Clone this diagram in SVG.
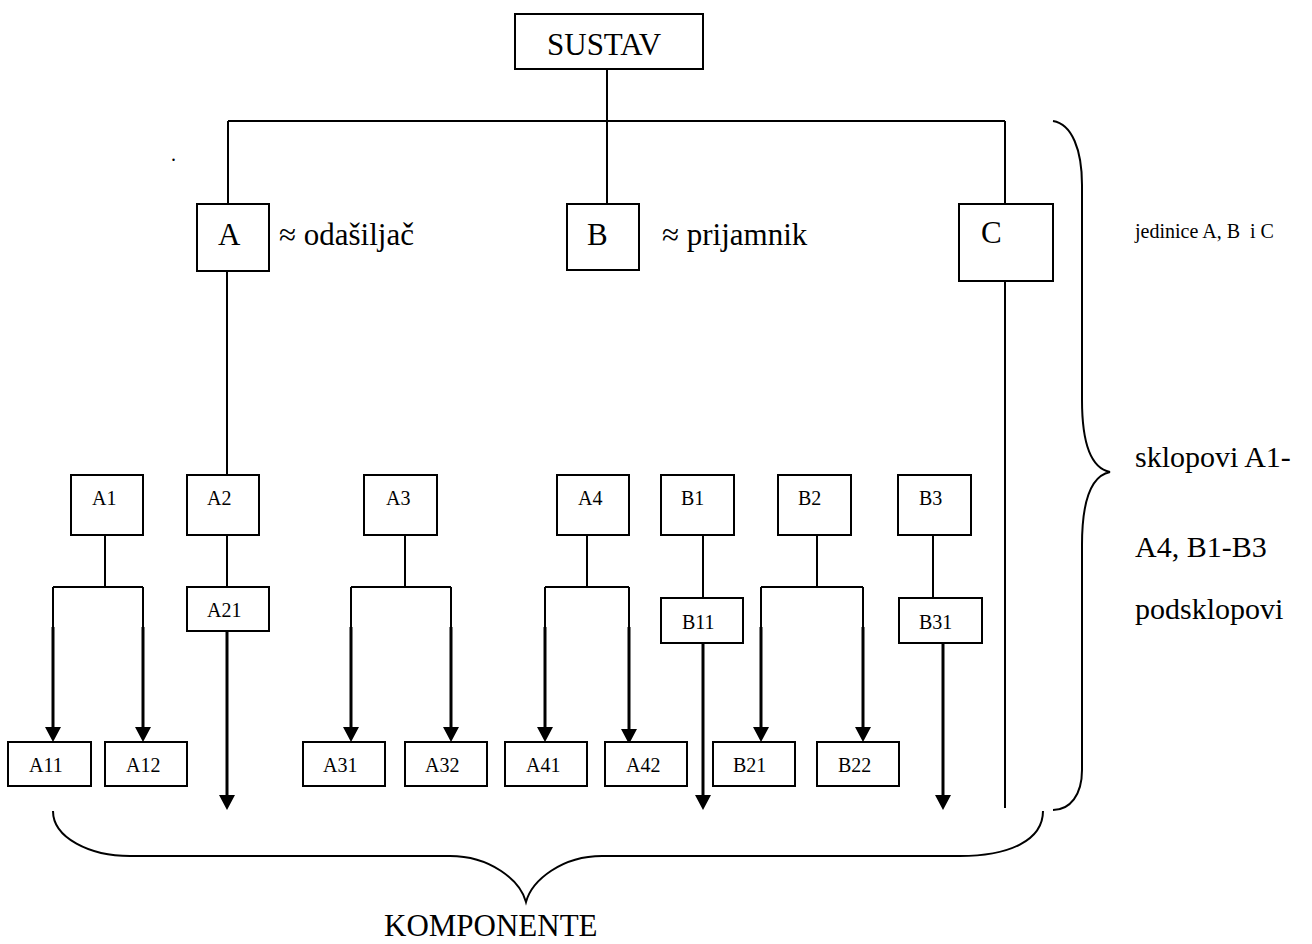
<svg xmlns="http://www.w3.org/2000/svg" width="1312" height="944" viewBox="0 0 1312 944">
<style>
text{font-family:"Liberation Serif","Times New Roman",serif;fill:#000}
.big{font-size:31px}
.sm{font-size:20px}
.side{font-size:30px}
rect{fill:#fff;stroke:#000;stroke-width:2}
.ln{stroke:#000;stroke-width:2;fill:none}
.ar{stroke:#000;stroke-width:3;fill:none;marker-end:url(#ah)}
.br{stroke:#000;stroke-width:2;fill:none}
</style>
<defs>
<marker id="ah" markerUnits="userSpaceOnUse" viewBox="0 0 15 16" refX="2" refY="8" markerWidth="15" markerHeight="16" orient="auto">
<path d="M0,0 L15,8 L0,16 Z" fill="#000"/>
</marker>
</defs>
<rect width="1312" height="944" style="fill:#fff;stroke:none"/>
<g id="connectors">
<path class="ln" d="M607,69 V204 M228,121 H1005 M228,121 V204 M1005,121 V204"/>
<path class="ln" d="M227,271 V475 M1005,281 V808"/>
<path class="ln" d="M105,535 V587 M53,587 H143 M53,587 V628 M143,587 V628"/>
<path class="ln" d="M227,535 V587"/>
<path class="ln" d="M405,535 V587 M351,587 H451 M351,587 V628 M451,587 V628"/>
<path class="ln" d="M587,535 V587 M545,587 H629 M545,587 V628 M629,587 V628"/>
<path class="ln" d="M703,535 V598"/>
<path class="ln" d="M817,535 V587 M761,587 H863 M761,587 V628 M863,587 V628"/>
<path class="ln" d="M933,535 V598"/>
<line class="ar" x1="53" y1="627" x2="53" y2="729"/>
<line class="ar" x1="143" y1="627" x2="143" y2="729"/>
<line class="ar" x1="227" y1="631" x2="227" y2="797"/>
<line class="ar" x1="351" y1="627" x2="351" y2="729"/>
<line class="ar" x1="451" y1="627" x2="451" y2="729"/>
<line class="ar" x1="545" y1="627" x2="545" y2="729"/>
<line class="ar" x1="629" y1="627" x2="629" y2="731"/>
<line class="ar" x1="703" y1="643" x2="703" y2="797"/>
<line class="ar" x1="761" y1="627" x2="761" y2="729"/>
<line class="ar" x1="863" y1="627" x2="863" y2="729"/>
<line class="ar" x1="943" y1="643" x2="943" y2="797"/>
</g>
<g id="brace-right">
<path class="br" d="M1053,121 C1072,124 1082,150 1082,185 V400 C1082,440 1090,468 1110,472 C1090,476 1082,505 1082,545 V770 C1082,795 1070,810 1053,810"/>
</g>
<g id="brace-bottom">
<path class="br" d="M53,811 C53,838 90,856 130,856 H450 C490,856 520,880 526,902 C532,880 562,856 602,856 H960 C1010,856 1043,840 1043,811"/>
</g>
<g id="sustav"><rect x="515" y="14" width="188" height="55"/><text class="big" x="547" y="55">SUSTAV</text></g>
<g id="A"><rect x="197" y="204" width="72" height="67"/><text class="big" x="218" y="245">A</text></g>
<g id="B"><rect x="567" y="204" width="72" height="66"/><text class="big" x="587" y="245">B</text></g>
<g id="C"><rect x="959" y="204" width="94" height="77"/><text class="big" x="981" y="243">C</text></g>
<g id="A1"><rect x="71" y="475" width="72" height="60"/><text class="sm" x="92" y="505">A1</text></g>
<g id="A2"><rect x="187" y="475" width="72" height="60"/><text class="sm" x="207" y="505">A2</text></g>
<g id="A3"><rect x="364" y="475" width="73" height="60"/><text class="sm" x="386" y="505">A3</text></g>
<g id="A4"><rect x="557" y="475" width="72" height="60"/><text class="sm" x="578" y="505">A4</text></g>
<g id="B1"><rect x="661" y="475" width="73" height="60"/><text class="sm" x="681" y="505">B1</text></g>
<g id="B2"><rect x="778" y="475" width="73" height="60"/><text class="sm" x="798" y="505">B2</text></g>
<g id="B3"><rect x="898" y="475" width="73" height="60"/><text class="sm" x="919" y="505">B3</text></g>
<g id="A21"><rect x="187" y="587" width="82" height="44"/><text class="sm" x="207" y="617">A21</text></g>
<g id="B11"><rect x="661" y="598" width="82" height="45"/><text class="sm" x="682" y="629">B11</text></g>
<g id="B31"><rect x="899" y="598" width="83" height="45"/><text class="sm" x="919" y="629">B31</text></g>
<g id="A11"><rect x="8" y="742" width="83" height="44"/><text class="sm" x="29" y="772">A11</text></g>
<g id="A12"><rect x="105" y="742" width="82" height="44"/><text class="sm" x="126" y="772">A12</text></g>
<g id="A31"><rect x="303" y="742" width="82" height="44"/><text class="sm" x="323" y="772">A31</text></g>
<g id="A32"><rect x="405" y="742" width="82" height="44"/><text class="sm" x="425" y="772">A32</text></g>
<g id="A41"><rect x="505" y="742" width="82" height="44"/><text class="sm" x="526" y="772">A41</text></g>
<g id="A42"><rect x="605" y="742" width="82" height="44"/><text class="sm" x="626" y="772">A42</text></g>
<g id="B21"><rect x="713" y="742" width="82" height="44"/><text class="sm" x="733" y="772">B21</text></g>
<g id="B22"><rect x="817" y="742" width="82" height="44"/><text class="sm" x="838" y="772">B22</text></g>
<g id="labels">
<text class="sm" x="171" y="161">.</text>
<text class="big" x="279" y="245">≈ odašiljač</text>
<text class="big" x="662" y="245">≈ prijamnik</text>
<text class="sm" x="1135" y="238" xml:space="preserve">jedinice A, B  i C</text>
<text class="side" x="1135" y="467">sklopovi A1-</text>
<text class="side" x="1135" y="557">A4, B1-B3</text>
<text class="side" x="1135" y="619">podsklopovi</text>
<text class="big" x="384" y="936">KOMPONENTE</text>
</g>
</svg>
